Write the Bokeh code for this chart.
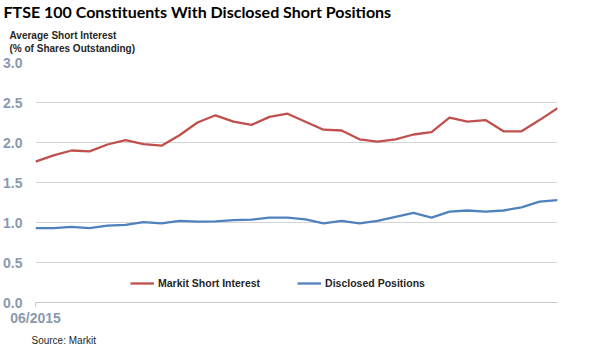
from bokeh.plotting import figure
from bokeh.models import Legend, LegendItem, FixedTicker, ColumnDataSource, Title, CustomJSTickFormatter
from bokeh.embed import file_html
from bokeh.resources import INLINE

x_index = list(range(30))
x_tick_labels = {0: "06/2015"}

markit_short_interest = [1.76, 1.84, 1.90, 1.89, 1.975, 2.03, 1.98, 1.96, 2.09, 2.25,
                         2.34, 2.26, 2.22, 2.32, 2.36, 2.26, 2.16, 2.15, 2.04, 2.01,
                         2.04, 2.10, 2.13, 2.31, 2.26, 2.28, 2.14, 2.14, 2.28, 2.43]
disclosed_positions = [0.93, 0.93, 0.945, 0.93, 0.96, 0.97, 1.005, 0.99, 1.02, 1.01,
                       1.015, 1.03, 1.035, 1.06, 1.06, 1.04, 0.99, 1.02, 0.99, 1.02,
                       1.07, 1.12, 1.06, 1.135, 1.15, 1.135, 1.15, 1.19, 1.26, 1.28]
y_ticks = [0.0, 0.5, 1.0, 1.5, 2.0, 2.5, 3.0]

RED = "#c0504d"
BLUE = "#4f81bd"
FONT = "Liberation Sans"

p = figure(frame_width=522, frame_height=240, output_backend="svg", toolbar_location=None,
           x_range=(0, 29), y_range=(0, 3.0), title=None,
           min_border_left=35, min_border_right=33, min_border_top=0, min_border_bottom=0)
p.outline_line_color = None

src = ColumnDataSource(dict(x=x_index, red=markit_short_interest, blue=disclosed_positions))
r1 = p.line("x", "red", source=src, line_color=RED, line_width=2.3)
r2 = p.line("x", "blue", source=src, line_color=BLUE, line_width=2.3)

# y axis
p.yaxis.ticker = FixedTicker(ticks=y_ticks)
p.yaxis.formatter = CustomJSTickFormatter(code="return tick.toFixed(1);")
p.yaxis.axis_line_color = None
p.yaxis.major_tick_line_color = None
p.yaxis.major_tick_out = 0
p.yaxis.major_tick_in = 0
p.yaxis.minor_tick_line_color = None
p.yaxis.minor_tick_out = 0
p.yaxis.major_label_standoff = 13
p.yaxis.major_label_text_font = FONT
p.yaxis.major_label_text_font_size = "14px"
p.yaxis.major_label_text_font_style = "bold"
p.yaxis.major_label_text_color = "#8a99ad"

p.ygrid.ticker = FixedTicker(ticks=[t for t in y_ticks if t > 0])
p.ygrid.grid_line_color = "#d4d4d4"
p.xgrid.grid_line_color = None

# x axis
p.xaxis.ticker = FixedTicker(ticks=list(x_tick_labels.keys()))
p.xaxis.major_label_overrides = x_tick_labels
p.xaxis.axis_line_color = "#c8c8c8"
p.xaxis.major_tick_line_color = "#c8c8c8"
p.xaxis.major_tick_out = 4
p.xaxis.major_tick_in = 0
p.xaxis.minor_tick_line_color = None
p.xaxis.minor_tick_out = 0
p.xaxis.major_label_standoff = 3
p.xaxis.major_label_text_font = FONT
p.xaxis.major_label_text_font_size = "14px"
p.xaxis.major_label_text_font_style = "bold"
p.xaxis.major_label_text_color = "#8a99ad"

# legend
legend = Legend(items=[LegendItem(label="Markit Short Interest", renderers=[r1]),
                       LegendItem(label="Disclosed Positions", renderers=[r2])],
                orientation="horizontal", location=(95, 11),
                padding=0, margin=0, spacing=37, glyph_width=24, glyph_height=16,
                label_standoff=4, border_line_color=None, background_fill_alpha=0,
                label_text_font=FONT, label_text_font_size="10.5px",
                label_text_font_style="bold", label_text_color="#262626")
p.add_layout(legend, "center")

# titles: added to "above" from the frame outward
p.add_layout(Title(text="Average Short Interest\n(% of Shares Outstanding)", text_font=FONT,
                   text_font_size="10px", text_font_style="bold", text_color="#262626",
                   align="left", offset=-26, standoff=17, text_line_height=1.2), "above")
p.add_layout(Title(text="FTSE 100 Constituents With Disclosed Short Positions",
                   text_font="Lato", text_font_size="16px", text_font_style="bold",
                   text_color="#000000", align="left", offset=-32, standoff=-2), "above")
p.add_layout(Title(text="Source: Markit", text_font=FONT, text_font_size="10px",
                   text_font_style="normal", text_color="#262626", align="left",
                   offset=-4, standoff=8), "below")

open("out.html", "w").write(file_html(p, INLINE))
